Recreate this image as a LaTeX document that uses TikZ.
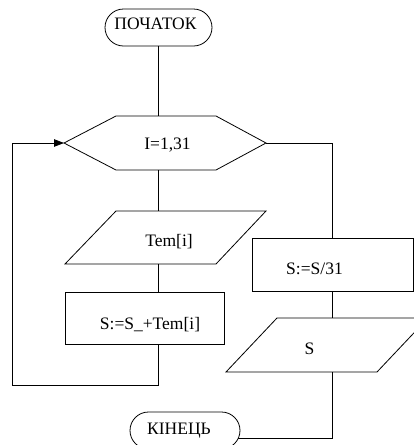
\documentclass[tikz,border=0pt]{standalone}
\usepackage{fontspec}
\setmainfont{Liberation Serif}
\newfontfamily\blockfont{Liberation Serif}
\usetikzlibrary{shapes.misc,arrows.meta}

\tikzset{
  every picture/.style={x=1pt,y=-1pt},
  line/.style={draw=black,line width=0.8pt},
  blk/.style={shape=rectangle,inner sep=0pt,outer sep=0pt},
  term/.style={shape=rounded rectangle,line,inner sep=0pt,outer sep=0pt,
    minimum height=37pt},
  proc/.style={blk,line},
  label txt/.style={inner sep=0pt,font=\blockfont\fontsize{17.5}{20}\selectfont},
  arr/.style={line,-{Triangle[length=10pt,width=7.5pt]}},
}

\begin{document}
\begin{tikzpicture}
  \clip (0,0) rectangle (414,445);
  \fill[white] (0,0) rectangle (414,445);

  % block outlines
  \node[term,minimum width=107pt] (start) at (158.5,27.5) {};
  \node[blk,minimum width=202pt,minimum height=54pt] (loop) at (165,143) {};
  \draw[line] (loop.west) -- ([xshift=52pt]loop.north west)
    -- ([xshift=-50pt]loop.north east) -- (loop.east)
    -- ([xshift=-50pt]loop.south east) -- ([xshift=52pt]loop.south west) -- cycle;
  \node[blk,minimum width=201pt,minimum height=53pt] (tem) at (165.5,237.5) {};
  \draw[line] (tem.south west) -- ([xshift=51pt]tem.north west)
    -- (tem.north east) -- ([xshift=-50pt]tem.south east) -- cycle;
  \node[proc,minimum width=159pt,minimum height=52pt] (add) at (144.5,318) {};
  \node[proc,minimum width=161pt,minimum height=53pt] (avg) at (332.5,264.5) {};
  \node[blk,minimum width=202pt,minimum height=54pt] (out) at (327,345) {};
  \draw[line] (out.south west) -- ([xshift=51pt]out.north west)
    -- (out.north east) -- ([xshift=-51pt]out.south east) -- cycle;
  \node[term,minimum width=110pt] (stop) at (185,430.5) {};

  % block texts
  \node[label txt] (t-start) at ([shift={(-3,-3.8)}]start.center) {ПОЧАТОК};
  \node[label txt] (t-loop)  at ([shift={(2.5,2.5)}]loop.center) {I=1,31};
  \node[label txt] (t-tem)   at ([shift={(3.5,4.5)}]tem.center) {Tem[i]};
  \node[label txt] (t-add)   at ([shift={(5.5,6.5)}]add.center) {S:=S\_+Tem[i]};
  \node[label txt] (t-avg)   at ([shift={(-18,4.5)}]avg.center) {S:=S/31};
  \node[label txt] (t-out)   at ([shift={(-17.5,3.5)}]out.center) {S};
  \node[label txt] (t-stop)  at ([shift={(-6,0)}]stop.center) {КІНЕЦЬ};

  % connectors
  \coordinate (back) at (12,385);
  \draw[line] (start.south) -- (start.south |- loop.north);
  \draw[line] (loop.south -| start.south) -- (tem.north -| start.south);
  \draw[line] (tem.south -| start.south) -- (add.north -| start.south);
  \draw[arr] (add.south -| start.south) |- (back) |- (loop.west);
  \draw[line] (loop.east) -| (avg.north);
  \draw[line] (avg.south) -- (avg.south |- out.north);
  \draw[line] (avg.south |- out.south) |- (stop.-8);
\end{tikzpicture}
\end{document}
